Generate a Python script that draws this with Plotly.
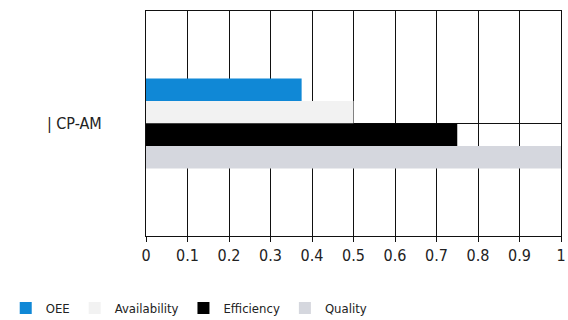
import plotly.graph_objects as go

categories = ["| CP-AM"]
series_names = ["OEE", "Availability", "Efficiency", "Quality"]
oee = [0.375]
availability = [0.5]
efficiency = [0.75]
quality = [1.0]
x_ticks = [0, 0.1, 0.2, 0.3, 0.4, 0.5, 0.6, 0.7, 0.8, 0.9, 1]
x_tick_labels = ["0", "0.1", "0.2", "0.3", "0.4", "0.5", "0.6", "0.7", "0.8", "0.9", "1"]

colors = ["#1088d6", "#f2f2f2", "#000000", "#d5d7de"]
values = [oee, availability, efficiency, quality]

FONT = "DejaVu Sans Condensed, DejaVu Sans, sans-serif"

fig = go.Figure()
for name, vals, col in zip(series_names, values, colors):
    fig.add_trace(go.Bar(
        y=categories, x=vals, name=name, orientation="h",
        marker=dict(color=col, line=dict(width=0)),
    ))

fig.update_layout(
    width=568, height=320,
    margin=dict(l=146, r=7, t=11, b=84, autoexpand=False),
    paper_bgcolor="white", plot_bgcolor="white",
    barmode="group", bargap=0.6, bargroupgap=0,
    font=dict(family=FONT, size=16, color="#222222"),
    showlegend=True,
    legend=dict(
        orientation="h", x=-0.338, xanchor="left", y=-0.253, yanchor="top",
        font=dict(family=FONT, size=13, color="#222222"),
        traceorder="normal", itemwidth=30,
    ),
    xaxis=dict(
        range=[0, 1], tickvals=x_ticks, ticktext=x_tick_labels,
        showgrid=True, gridcolor="#111111", gridwidth=1,
        showline=True, linecolor="#111111", linewidth=1, mirror=True,
        ticks="outside", ticklen=5, tickcolor="#111111",
        zeroline=False, fixedrange=True,
        tickfont=dict(family=FONT, size=16, color="#222222"),
    ),
    yaxis=dict(
        autorange="reversed",
        showgrid=True, gridcolor="#111111", gridwidth=1,
        showline=True, linecolor="#111111", linewidth=1, mirror=True,
        ticks="", ticklabelstandoff=40,
        tickfont=dict(family=FONT, size=16, color="#222222"),
    ),
)

fig.write_html("out.html", config={"displayModeBar": False},
               post_script="document.body.style.margin='0';")
